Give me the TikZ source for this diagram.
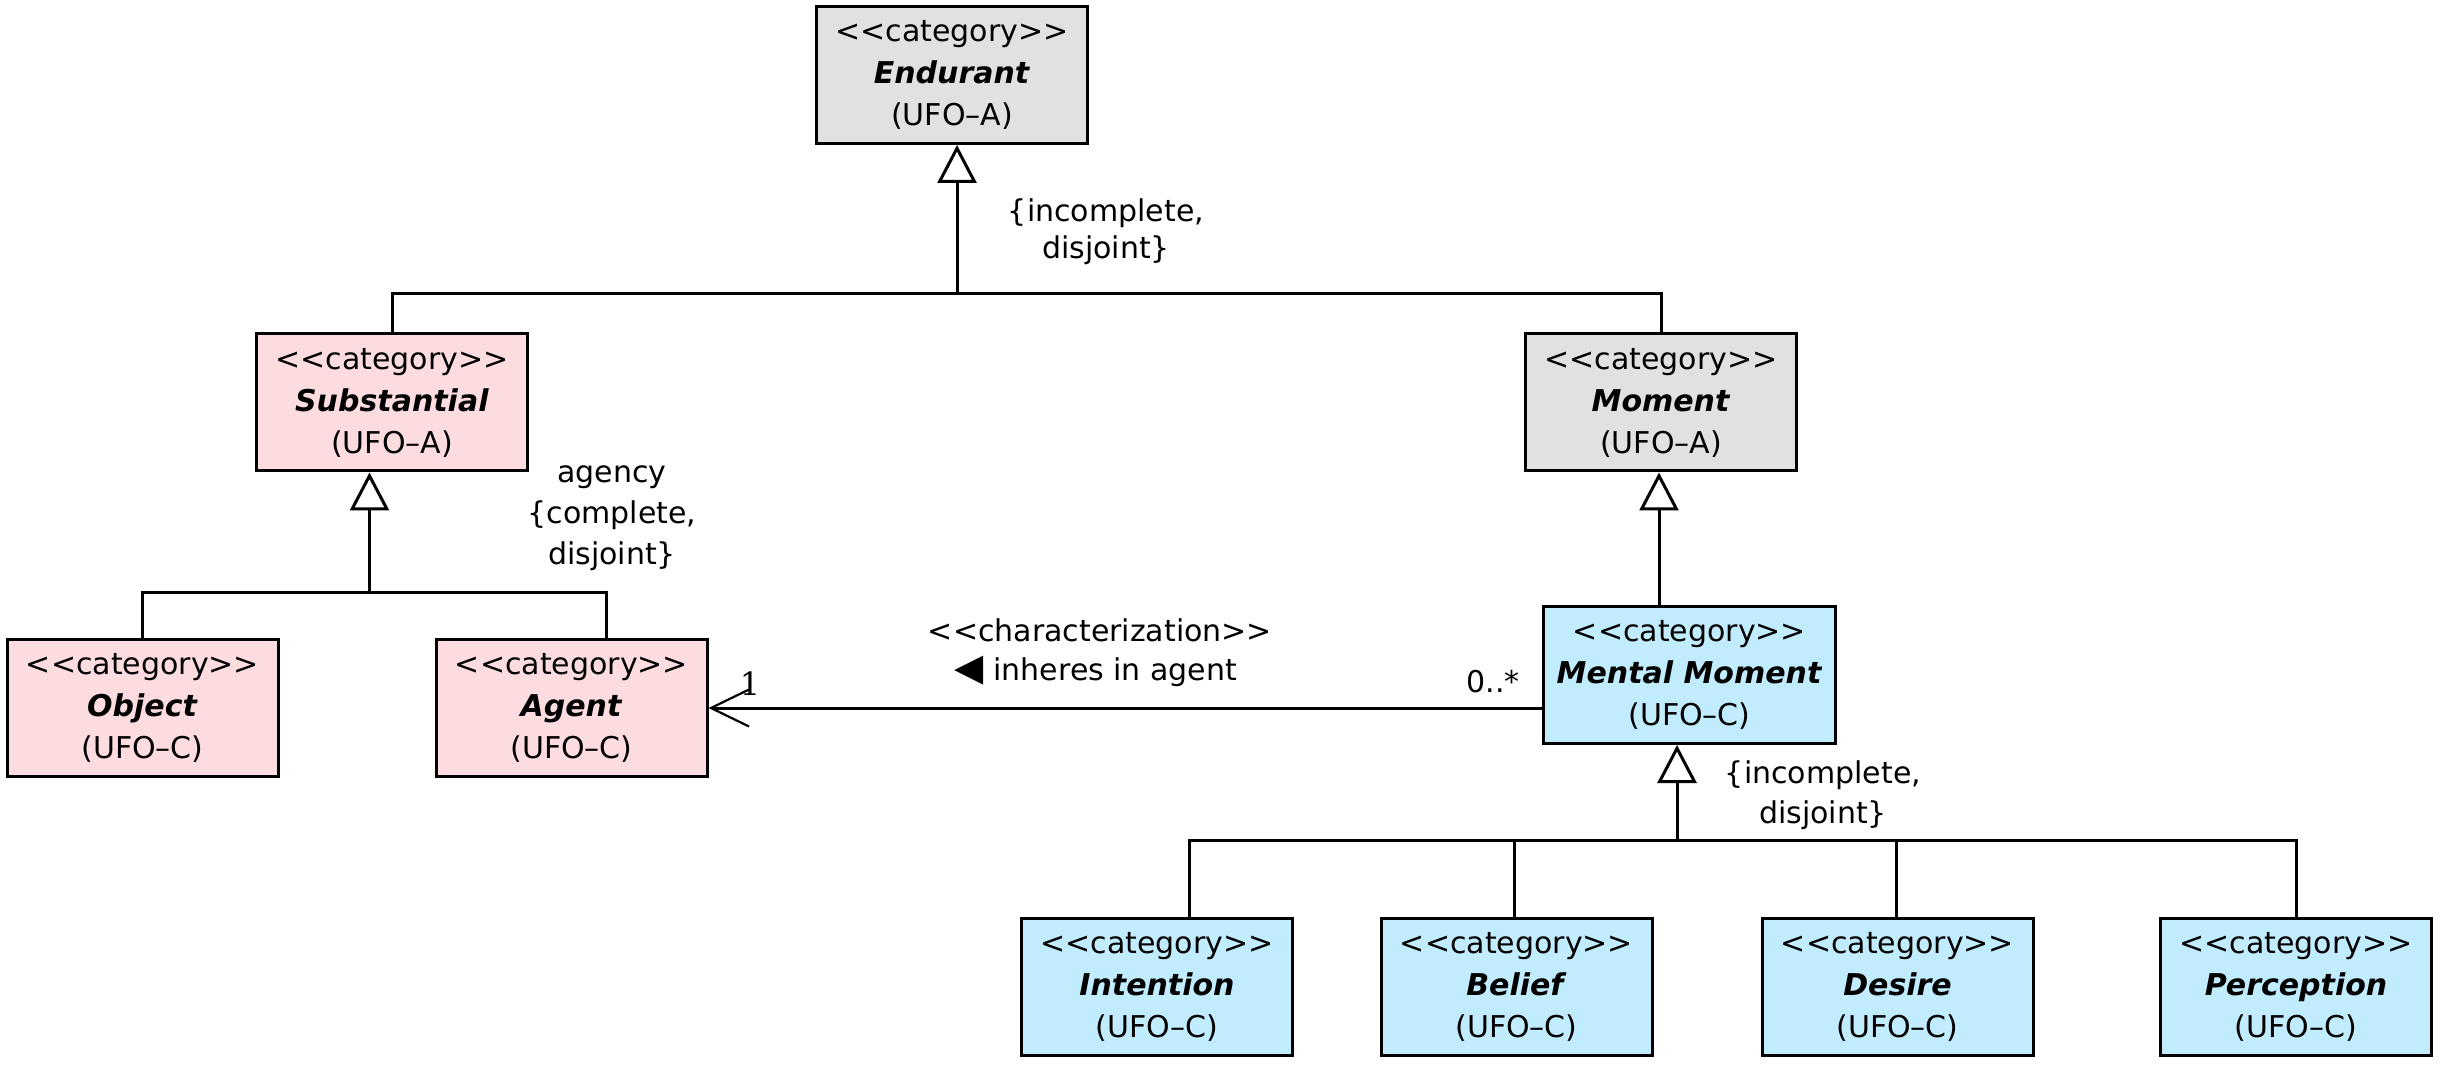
\documentclass[tikz,border=0pt]{standalone}
\usepackage{fontspec}
\setmainfont{DejaVu Sans}[Ligatures=TeXOff]
\newfontfamily\oneserif{DejaVu Serif}
\usetikzlibrary{arrows.meta}
\definecolor{ufogray}{HTML}{E1E1E1}
\definecolor{ufopink}{HTML}{FDDCE0}
\definecolor{ufoblue}{HTML}{C1ECFD}
\begin{document}
\begin{tikzpicture}[x=0.5pt,y=-0.5pt,
  cls/.style={draw, line width=1.5pt, minimum width=135.5pt, minimum height=68.5pt,
    inner sep=0pt, align=center, font=\fontsize{15}{21}\selectfont},
  graycls/.style={cls, fill=ufogray},
  pinkcls/.style={cls, fill=ufopink},
  bluecls/.style={cls, fill=ufoblue},
  conn/.style={line width=1.5pt},
  gen/.style={line width=1.5pt, -{Triangle[open, length=19pt, width=19.5pt]}},
  assoc/.style={line width=1.5pt, -{Straight Barb[length=19pt, width=18.5pt, line width=1.1pt]}},
  lbl/.style={align=center, inner sep=0pt}
]
\useasboundingbox (0,0) rectangle (2445,1068);

% classes
\node[graycls] (endurant) at (952,75) {<<category>>\\\textbf{\textit{Endurant}}\\(UFO–A)};
\node[pinkcls] (substantial) at (392,402.5) {<<category>>\\\textbf{\textit{Substantial}}\\(UFO–A)};
\node[graycls] (moment) at (1661,402.5) {<<category>>\\\textbf{\textit{Moment}}\\(UFO–A)};
\node[pinkcls] (object) at (142.5,708) {<<category>>\\\textbf{\textit{Object}}\\(UFO–C)};
\node[pinkcls] (agent) at (571.5,708) {<<category>>\\\textbf{\textit{Agent}}\\(UFO–C)};
\node[bluecls, minimum width=146pt] (mental) at (1689.5,675) {<<category>>\\\textbf{\textit{Mental Moment}}\\(UFO–C)};
\node[bluecls] (intention) at (1157,987) {<<category>>\\\textbf{\textit{Intention}}\\(UFO–C)};
\node[bluecls] (belief) at (1516.5,987) {<<category>>\\\textbf{\textit{Belief}}\\(UFO–C)};
\node[bluecls] (desire) at (1897.5,987) {<<category>>\\\textbf{\textit{Desire}}\\(UFO–C)};
\node[bluecls] (perception) at (2296,987) {<<category>>\\\textbf{\textit{Perception}}\\(UFO–C)};

% generalization set: Endurant
\coordinate (j1) at (957,294);
\draw[gen] (j1) -- (j1 |- endurant.south);
\draw[conn] (substantial.north) -- (substantial.north |- j1) -- (moment.north |- j1) -- (moment.north);
\node[lbl, font=\fontsize{15}{18.5}\selectfont] (lab1) at (1106,232) {\{incomplete,\\disjoint\}};

% generalization set: Substantial
\coordinate (j2) at (369.5,593);
\draw[gen] (j2) -- (j2 |- substantial.south);
\draw[conn] (object.north) -- (object.north |- j2) -- ([xshift=17.5pt]agent.north |- j2) -- ([xshift=17.5pt]agent.north);
\node[lbl, font=\fontsize{15}{20.5}\selectfont] (lab2) at (612,518) {agency\\\{complete,\\disjoint\}};

% Moment -> Mental Moment
\draw[gen] ([xshift=-1pt]moment.south |- mental.north) -- ([xshift=-1pt]moment.south);

% generalization set: Mental Moment
\coordinate (j3) at (1677,840);
\draw[gen] (j3) -- (j3 |- mental.south);
\draw[conn] ([xshift=16pt]intention.north) -- ([xshift=16pt]intention.north |- j3) -- (perception.north |- j3) -- (perception.north);
\draw[conn] ([xshift=-1pt]belief.north) -- ([xshift=-1pt]belief.north |- j3);
\draw[conn] ([xshift=-0.75pt]desire.north) -- ([xshift=-0.75pt]desire.north |- j3);
\node[lbl, font=\fontsize{15}{20}\selectfont] (lab3) at (1823,795) {\{incomplete,\\disjoint\}};

% association
\draw[assoc] ([yshift=-16.5pt]mental.west) -- (agent.east);
\node[lbl, anchor=base, font=\fontsize{15}{16}\selectfont] (lab4) at (1100,642) {<<characterization>>};
\node[lbl, anchor=base, font=\fontsize{15}{16}\selectfont] (lab5) at (1096,680) {{\fontsize{19}{19}\selectfont ◀} inheres in agent};
\node[lbl, anchor=base, font=\fontsize{15}{16}\selectfont] (lab6) at (1493,692) {0..*};
\node[lbl, font=\oneserif\fontsize{16}{18}\selectfont] (lab7) at (750,684) {1};
\end{tikzpicture}
\end{document}
